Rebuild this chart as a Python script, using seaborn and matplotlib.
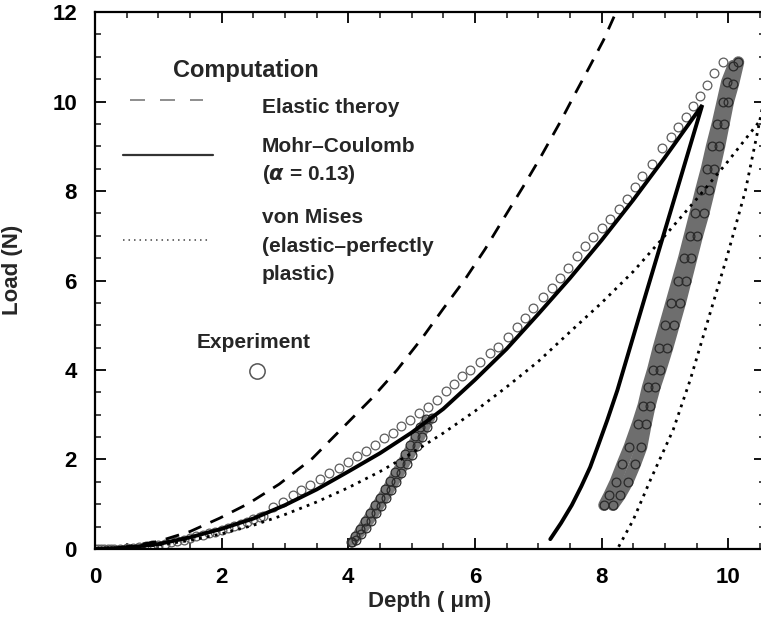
import pandas as pd
import seaborn as sns
import matplotlib.pyplot as plt
from matplotlib.ticker import MultipleLocator

# ---- Computation: elastic theory (loading) ----
elastic_depth = [0, 0.5, 1.0, 1.5, 1.97, 2.43, 2.91, 3.43, 3.87, 4.36, 4.77, 5.17,
                 5.50, 5.85, 6.16, 6.46, 6.75, 7.03, 7.35, 7.58, 7.80, 8.03, 8.23]
elastic_load = [0, 0.05, 0.17, 0.39, 0.69, 1.02, 1.45, 2.02, 2.65, 3.35, 4.0, 4.72,
                5.37, 6.04, 6.70, 7.40, 8.07, 8.74, 9.55, 10.17, 10.75, 11.37, 12.0]

# ---- Computation: Mohr-Coulomb (alpha = 0.13), loading then unloading ----
mc_depth = [0, 0.5, 1.0, 1.5, 2.0, 2.5, 3.0, 3.5, 4.0, 4.5, 5.0, 5.5, 6.0, 6.5,
            7.0, 7.5, 8.0, 8.5, 9.0, 9.59,
            9.19, 8.70, 8.25, 8.09, 7.95, 7.82, 7.68, 7.53, 7.36, 7.19]
mc_load = [0, 0.03, 0.11, 0.26, 0.45, 0.68, 0.98, 1.33, 1.73, 2.14, 2.60, 3.13, 3.78, 4.47,
           5.25, 6.05, 6.90, 7.80, 8.75, 9.92,
           8.02, 5.70, 3.55, 2.88, 2.33, 1.83, 1.40, 0.98, 0.58, 0.22]

# ---- Computation: von Mises (elastic-perfectly plastic) ----
vm_depth = [0, 0.5, 1.0, 1.5, 2.0, 2.5, 3.0, 3.5, 4.0, 4.5, 5.0, 5.5, 6.0, 6.5,
            7.0, 7.5, 8.0, 8.5, 9.0, 9.5, 10.0, 10.6]
vm_load = [0, 0.02, 0.09, 0.19, 0.34, 0.53, 0.77, 1.05, 1.37, 1.73, 2.14, 2.59, 3.08, 3.62,
           4.19, 4.85, 5.50, 6.20, 7.00, 7.82, 8.67, 9.75]
vm_unload_depth = [10.60, 10.46, 10.27, 9.98, 9.72, 9.40, 9.13, 8.77, 8.50, 8.25]
vm_unload_load = [10.3, 9.3, 8.0, 6.53, 5.30, 3.78, 2.66, 1.54, 0.65, 0.0]

# ---- Experiment: loading ----
exp_depth = [0.00, 0.05, 0.10, 0.15, 0.20, 0.25, 0.30, 0.40, 0.50, 0.60, 0.70, 0.80,
             0.90, 1.00, 1.10, 1.20, 1.30, 1.40, 1.50, 1.60, 1.70, 1.80, 1.90, 2.00,
             2.10, 2.20, 2.30, 2.40, 2.50, 2.60, 2.65,
             2.81, 2.97, 3.12, 3.26, 3.40, 3.55, 3.70, 3.85, 4.00, 4.14, 4.28, 4.42,
             4.56, 4.70, 4.84, 4.98, 5.12, 5.26, 5.40, 5.54, 5.67, 5.80, 5.92, 6.08,
             6.24, 6.37, 6.52, 6.67, 6.79, 6.92, 7.08, 7.22, 7.35, 7.47, 7.61, 7.74,
             7.87, 8.00, 8.14, 8.27, 8.40, 8.52, 8.64, 8.80, 8.96, 9.10, 9.21, 9.34,
             9.45, 9.56, 9.67, 9.78, 9.91]
exp_load = [0.00, 0.00, 0.00, 0.00, 0.00, 0.01, 0.01, 0.01, 0.02, 0.03, 0.05, 0.06,
            0.08, 0.10, 0.12, 0.15, 0.18, 0.21, 0.25, 0.28, 0.31, 0.35, 0.39, 0.43,
            0.47, 0.51, 0.56, 0.61, 0.66, 0.71, 0.74,
            0.94, 1.05, 1.20, 1.32, 1.44, 1.56, 1.70, 1.82, 1.95, 2.07, 2.20, 2.33,
            2.47, 2.60, 2.74, 2.88, 3.03, 3.18, 3.34, 3.52, 3.69, 3.86, 4.00, 4.18,
            4.38, 4.51, 4.74, 4.96, 5.16, 5.39, 5.63, 5.83, 6.06, 6.28, 6.55, 6.77,
            6.97, 7.17, 7.38, 7.60, 7.82, 8.08, 8.33, 8.60, 8.96, 9.21, 9.43, 9.65,
            9.90, 10.12, 10.37, 10.64, 10.88]

# ---- Experiment: partial unload / reload cycle near 3 N ----
cyc_unload_depth = [5.32, 5.24, 5.16, 5.08, 5.00, 4.92, 4.84, 4.76, 4.68, 4.60, 4.52,
                    4.44, 4.36, 4.28, 4.20, 4.12, 4.06]
cyc_unload_load = [2.93, 2.72, 2.50, 2.30, 2.10, 1.90, 1.70, 1.50, 1.32, 1.14, 0.97,
                   0.80, 0.63, 0.47, 0.33, 0.20, 0.15]
cyc_reload_depth = [4.04, 4.10, 4.18, 4.26, 4.34, 4.42, 4.50, 4.58, 4.66, 4.74, 4.82,
                    4.90, 4.98, 5.06, 5.14, 5.22]
cyc_reload_load = [0.15, 0.28, 0.45, 0.63, 0.80, 0.98, 1.15, 1.33, 1.52, 1.72, 1.92,
                   2.12, 2.32, 2.52, 2.72, 2.90]

# ---- Experiment: final unload / reload band ----
band_unload_depth = [10.16, 10.08, 10.00, 9.93, 9.86, 9.78, 9.70, 9.61, 9.51, 9.42, 9.33,
                     9.24, 9.14, 9.04, 8.93, 8.84, 8.76, 8.70, 8.63, 8.53, 8.41, 8.29, 8.18]
band_unload_load = [10.88, 10.40, 10.00, 9.50, 9.00, 8.50, 8.02, 7.50, 7.00, 6.50, 6.00,
                    5.50, 5.00, 4.50, 4.00, 3.62, 3.20, 2.80, 2.28, 1.90, 1.50, 1.20, 0.98]
band_reload_depth = [8.04, 8.12, 8.22, 8.33, 8.44, 8.57, 8.66, 8.73, 8.81, 8.90, 9.00,
                     9.10, 9.20, 9.30, 9.39, 9.48, 9.57, 9.66, 9.74, 9.83, 9.91, 9.98, 10.08]
band_reload_load = [0.98, 1.20, 1.50, 1.90, 2.28, 2.80, 3.20, 3.62, 4.00, 4.50, 5.00,
                    5.50, 6.00, 6.50, 7.00, 7.50, 8.02, 8.50, 9.00, 9.50, 10.00, 10.44, 10.80]


def frame(x, y):
    return pd.DataFrame({"depth": x, "load": y})


sns.set_theme(style="ticks")
plt.rcParams["font.family"] = ["Liberation Sans", "DejaVu Sans"]
plt.rcParams["font.weight"] = "bold"
plt.rcParams["axes.labelweight"] = "bold"

fig = plt.figure(figsize=(7.61, 6.29), dpi=100)
ax = fig.add_axes([0.1248, 0.1272, 0.8804, 0.8537])

# gray underlay so the densely sampled unload/reload data reads as a band
for dx, dy in [(band_unload_depth, band_unload_load), (band_reload_depth, band_reload_load)]:
    sns.lineplot(data=frame(dx, dy), x="depth", y="load", sort=False, estimator=None,
                 color="#6e6e6e", lw=8.5, ax=ax, zorder=1)
for dx, dy in [(cyc_unload_depth, cyc_unload_load), (cyc_reload_depth, cyc_reload_load)]:
    sns.lineplot(data=frame(dx, dy), x="depth", y="load", sort=False, estimator=None,
                 color="#7a7a7a", lw=5, ax=ax, zorder=1)

circle_kw = dict(sort=False, estimator=None, linestyle="", marker="o", markersize=6.3,
                 markerfacecolor="none", markeredgewidth=0.9, ax=ax, zorder=2)
sns.lineplot(data=frame(exp_depth, exp_load), x="depth", y="load",
             markeredgecolor="#5e5e5e", **circle_kw)
for dx, dy in [(cyc_unload_depth, cyc_unload_load), (cyc_reload_depth, cyc_reload_load),
               (band_unload_depth, band_unload_load), (band_reload_depth, band_reload_load)]:
    sns.lineplot(data=frame(dx, dy), x="depth", y="load",
                 markeredgecolor="#2a2a2a", **circle_kw)

# computation curves
sns.lineplot(data=frame(elastic_depth, elastic_load), x="depth", y="load", sort=False,
             estimator=None, color="black", lw=2, linestyle=(0, (5, 3.6)), ax=ax, zorder=3)
sns.lineplot(data=frame(mc_depth, mc_load), x="depth", y="load", sort=False,
             estimator=None, color="black", lw=2.8, ax=ax, zorder=3)
plt.setp(ax.lines[-1], solid_joinstyle="miter")
sns.lineplot(data=frame(vm_depth, vm_load), x="depth", y="load", sort=False,
             estimator=None, color="black", lw=2, linestyle=(0, (1, 1.9)), ax=ax, zorder=3)
sns.lineplot(data=frame(vm_unload_depth, vm_unload_load), x="depth", y="load", sort=False,
             estimator=None, color="black", lw=2, linestyle=(0, (1, 1.9)), ax=ax, zorder=3)

# axes
ax.set_xlim(0, 10.58)
ax.set_ylim(0, 12)
ax.xaxis.set_major_locator(MultipleLocator(2))
ax.xaxis.set_minor_locator(MultipleLocator(0.5))
ax.yaxis.set_major_locator(MultipleLocator(2))
ax.yaxis.set_minor_locator(MultipleLocator(0.5))
ax.tick_params(which="major", direction="in", length=8, width=1.3, top=True, right=True,
               labelsize=16, pad=13, colors="black")
ax.tick_params(which="minor", direction="in", length=4.5, width=1.2, top=True, right=True)
for s in ax.spines.values():
    s.set_linewidth(1.6)
    s.set_color("black")
ax.set_xlabel("Depth ( μm)", fontsize=16)
ax.set_ylabel("Load (N)", fontsize=16)
ax.xaxis.set_label_coords(0.5, -0.078)
ax.yaxis.set_label_coords(-0.108, 0.52)

# in-plot key
T = ax.transAxes
ax.text(0.1164, 0.879, "Computation", transform=T, fontsize=17, va="baseline")
ax.plot([0.0522, 0.1612], [0.8361, 0.8361], transform=T, color="#7a7a7a", lw=1.2,
        linestyle=(0, (9, 9)))
ax.plot([0.0418, 0.1761], [0.7337, 0.7337], transform=T, color="#333333", lw=1.6)
ax.plot([0.0418, 0.1731], [0.5754, 0.5754], transform=T, color="#444444", lw=1.1,
        linestyle=(0, (1, 2.6)))
entries = [("Elastic theroy", 0.8119), ("Mohr\u2013Coulomb", 0.7393),
           ("($\\alpha$ = 0.13)", 0.6872), ("von Mises", 0.6071),
           ("(elastic\u2013perfectly", 0.5531), ("plastic)", 0.5009)]
for label, yy in entries:
    ax.text(0.2493, yy, label, transform=T, fontsize=15, va="baseline")
ax.text(0.1522, 0.3743, "Experiment", transform=T, fontsize=15, va="baseline")
ax.plot([0.2418], [0.3315], transform=T, marker="o", markersize=11,
        markerfacecolor="none", markeredgecolor="#555555", markeredgewidth=1.1)

fig.savefig("out.png", dpi=100)
